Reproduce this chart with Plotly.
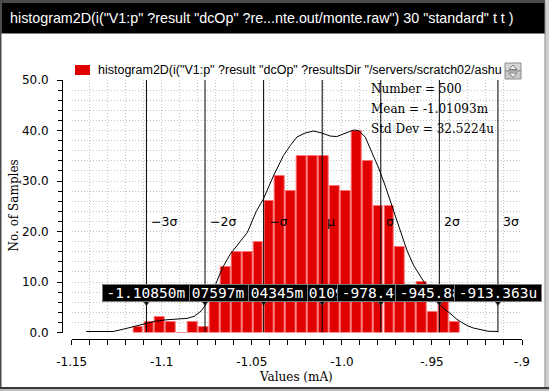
import plotly.graph_objects as go

# ---------------- data ----------------
counts = [1, 2, 3, 2, 0, 2, 1, 7, 13, 16, 16, 18, 26, 31, 28,
          35, 35, 35, 29, 28, 40, 34, 25, 25, 17, 8, 10, 4, 7, 2]
bin_lo = -1.1161
bin_hi = -0.9344

curve_x = [-1.142, -1.127, -1.122, -1.116, -1.110, -1.104, -1.098, -1.092, -1.086,
           -1.082, -1.078, -1.074, -1.070, -1.066, -1.062, -1.057, -1.0525, -1.0475,
           -1.0435, -1.038, -1.0325, -1.0287, -1.025, -1.0204, -1.0157, -1.0111,
           -1.0065, -1.0028, -0.9991, -0.9935, -0.9907, -0.987, -0.9833, -0.9796,
           -0.9759, -0.9713, -0.9676, -0.9639, -0.9602, -0.9546, -0.9509, -0.9472,
           -0.944, -0.940, -0.9361, -0.9335, -0.930, -0.9271, -0.9227, -0.9189, -0.9133]
curve_y = [0.2, 0.2, 0.6, 1.15, 1.7, 2.2, 2.5, 2.6, 2.8,
           3.2, 4.3, 6.3, 9.8, 13.0, 15.5, 17.8, 19.8, 24.0,
           26.5, 31.0, 35.0, 37.0, 38.7, 39.5, 39.9, 39.5,
           38.9, 38.8, 39.3, 40.1, 40.0, 38.7, 35.6, 32.6,
           29.0, 24.3, 20.3, 16.3, 13.3, 10.0, 8.0, 6.2,
           4.9, 3.8, 2.6, 2.0, 1.3, 0.9, 0.5, 0.25, 0.2]

mean_mA = -1.01093
std_mA = 0.0325224
n_samples = 500
sigma_k = [-3, -2, -1, 0, 1, 2, 3]
sigma_names = ["\u22123\u03c3", "\u22122\u03c3", "\u2212\u03c3", "\u03bc", "\u03c3", "2\u03c3", "3\u03c3"]

x_tickvals = [-1.15, -1.1, -1.05, -1.0, -0.95, -0.9]
x_ticktext = ["-1.15", "-1.1", "-1.05", "-1.0", "-.95", "-.9"]
y_tickvals = [0, 10, 20, 30, 40, 50]
y_ticktext = ["0.0", "10.0", "20.0", "30.0", "40.0", "50.0"]

title_text = 'histogram2D(i("V1:p" ?result "dcOp" ?re...nte.out/monte.raw") 30 "standard" t t )'
legend_text = 'histogram2D(i("V1:p" ?result "dcOp" ?resultsDir "/servers/scratch02/ashu'
stats_lines = ["Number = %d" % n_samples,
               "Mean = %.5fm" % mean_mA,
               "Std Dev = %.4fu" % (std_mA * 1000)]
x_title = "Values (mA)"
y_title = "No. of Samples"

# ---------------- geometry ----------------
W, H = 549, 391
ML, MR, MT, MB = 62, 27, 80, 52
PW = W - ML - MR
PH = H - MT - MB
X0_PX = 71.7      # pixel of x range start
Y0_PX = 332.5     # pixel of y = 0


def fx(px):
    return (px - ML) / PW


def fy(py):
    return (H - MB - py) / PH


def ydata(py):
    return (Y0_PX - py) * 50.0 / (Y0_PX - MT)


nb = len(counts)
bw = (bin_hi - bin_lo) / nb
centers = [bin_lo + (i + 0.5) * bw for i in range(nb)]
sig_x = [mean_mA + k * std_mA for k in sigma_k]


def fmt_val(v):
    if abs(v) >= 1.0:
        return "%.5fm" % v
    return "%.3fu" % (v * 1000)


sig_labels = [fmt_val(v) for v in sig_x]

fig = go.Figure()
fig.add_trace(go.Bar(x=centers, y=counts, width=bw * 0.9,
                     marker=dict(color="#e00000", line=dict(color="#ff7373", width=1)),
                     showlegend=False, hoverinfo="skip"))
fig.add_trace(go.Scatter(x=curve_x, y=curve_y, mode="lines",
                         line=dict(color="black", width=1), showlegend=False,
                         hoverinfo="skip"))
fig.add_trace(go.Scatter(x=sig_x, y=[ydata(300.5)] * len(sig_x), mode="markers",
                         marker=dict(symbol="triangle-down", size=10, color="black",
                                     line=dict(color="#707070", width=1)),
                         showlegend=False, hoverinfo="skip", cliponaxis=False))

shapes = []
for v in sig_x:
    shapes.append(dict(type="line", xref="x", yref="y", x0=v, x1=v, y0=0, y1=50,
                       line=dict(color="black", width=1)))


def prect(x0, y0, x1, y1, fill, line=None, lw=0):
    d = dict(type="rect", xref="paper", yref="paper",
             x0=fx(x0), x1=fx(x1), y0=fy(y1), y1=fy(y0),
             fillcolor=fill, line=dict(width=lw, color=line or fill), layer="above")
    return d


def ppath(pts, fill, line):
    s = "M " + " L ".join("%f,%f" % (fx(a), fy(b)) for a, b in pts) + " Z"
    return dict(type="path", xref="paper", yref="paper", path=s, fillcolor=fill,
                line=dict(color=line, width=1), layer="above")


# frame & title bar
shapes.append(prect(0, 0, W, 3, "#4a4a4a"))
shapes.append(prect(0, 0, 1.5, H, "#4a4a4a"))
shapes.append(prect(1.5, 3, 545, 33.5, "black"))
shapes.append(prect(545, 0, W, H, "#cfcfcf"))
shapes.append(prect(544.5, 3, 545.5, 388, "#8a8a8a"))
shapes.append(prect(0, 387, W, 389, "#3a3a3a"))
shapes.append(prect(0, 389, W, H, "#bdbdbd"))
# legend swatch
shapes.append(prect(75, 65, 90, 75, "#e00000"))
# legend scroll widget
shapes.append(prect(505, 63, 521, 71, "#d6d6d6", "#8c8c8c", 1))
shapes.append(prect(505, 71, 521, 79, "#c8c8c8", "#8c8c8c", 1))
shapes.append(ppath([(509, 69.5), (517, 69.5), (513, 65)], "#f4f4f4", "#7a7a7a"))
shapes.append(ppath([(509, 73), (517, 73), (513, 77.5)], "#f4f4f4", "#7a7a7a"))

ann = []
ann.append(dict(text=title_text, xref="paper", yref="paper", x=fx(7.5), y=fy(18.5),
                xanchor="left", yanchor="middle", showarrow=False,
                font=dict(family="Liberation Sans", size=14.3, color="white")))
ann.append(dict(text=legend_text, xref="paper", yref="paper", x=fx(96), y=fy(70.5),
                xanchor="left", yanchor="middle", showarrow=False,
                font=dict(family="Liberation Sans", size=12.5, color="black")))
for i, s in enumerate(stats_lines):
    ann.append(dict(text=s, xref="paper", yref="paper", x=fx(369), y=fy(89 + 20.2 * i),
                    xanchor="left", yanchor="middle", showarrow=False,
                    font=dict(family="DejaVu Serif", size=12, color="black")))
ann.append(dict(text=x_title, xref="paper", yref="paper", x=fx(295.7), y=fy(377),
                xanchor="center", yanchor="middle", showarrow=False,
                font=dict(family="DejaVu Serif", size=12, color="black")))
ann.append(dict(text=y_title, xref="paper", yref="paper", x=fx(13.5), y=fy(206),
                xanchor="center", yanchor="middle", showarrow=False, textangle=-90,
                font=dict(family="DejaVu Serif", size=12, color="black")))
for v, nm in zip(sig_x, sigma_names):
    ann.append(dict(text=nm, xref="x", yref="paper", x=v, y=fy(221), xshift=3,
                    xanchor="left", yanchor="middle", showarrow=False,
                    font=dict(family="DejaVu Sans", size=12.5, color="black")))
# tooltip boxes: centre first, then outwards (outer ones on top)
order = [3, 2, 4, 1, 5, 0, 6]
for i in order:
    ann.append(dict(text=sig_labels[i], xref="x", yref="paper", x=sig_x[i], y=fy(292.5),
                    xanchor="center", yanchor="middle", showarrow=False,
                    width=84, height=14, borderpad=1, borderwidth=1,
                    bgcolor="black", bordercolor="#7a7a7a",
                    font=dict(family="DejaVu Sans Mono", size=14.5, color="white")))

grid_dash = "1px,2px"
fig.update_layout(
    width=W, height=H, autosize=False,
    margin=dict(l=ML, r=MR, t=MT, b=MB, pad=0),
    paper_bgcolor="white", plot_bgcolor="white",
    showlegend=False, bargap=0,
    shapes=shapes, annotations=ann,
    xaxis=dict(range=[-1.15, -0.9], domain=[fx(X0_PX), 1], anchor="free", position=0,
               tickmode="array", tickvals=x_tickvals, ticktext=x_ticktext,
               ticks="outside", ticklen=5, tickcolor="black", tickwidth=1,
               showline=True, linecolor="black", linewidth=1,
               showgrid=True, gridcolor="#c4c4c4", griddash=grid_dash, gridwidth=1,
               zeroline=False, ticklabelstandoff=7,
               tickfont=dict(family="DejaVu Sans", size=12, color="black"),
               minor=dict(tickmode="linear", tick0=-1.15, dtick=0.01, ticks="outside",
                          ticklen=5, tickcolor="black", showgrid=True,
                          gridcolor="#c4c4c4", griddash=grid_dash, gridwidth=1)),
    yaxis=dict(range=[0, 50], domain=[fy(Y0_PX), 1], anchor="free", position=0,
               tickmode="array", tickvals=y_tickvals, ticktext=y_ticktext,
               ticks="outside", ticklen=5, tickcolor="black", tickwidth=1,
               showline=True, linecolor="black", linewidth=1,
               showgrid=True, gridcolor="#c4c4c4", griddash=grid_dash, gridwidth=1,
               zeroline=False, ticklabelstandoff=6,
               tickfont=dict(family="DejaVu Sans", size=12, color="black"),
               minor=dict(tickmode="linear", tick0=0, dtick=2, ticks="outside",
                          ticklen=4, tickcolor="black", showgrid=True,
                          gridcolor="#c4c4c4", griddash=grid_dash, gridwidth=1)),
)

fig.write_html("out.html", config={"displayModeBar": False},
               post_script="document.body.style.margin='0';document.body.style.overflow='hidden';")
